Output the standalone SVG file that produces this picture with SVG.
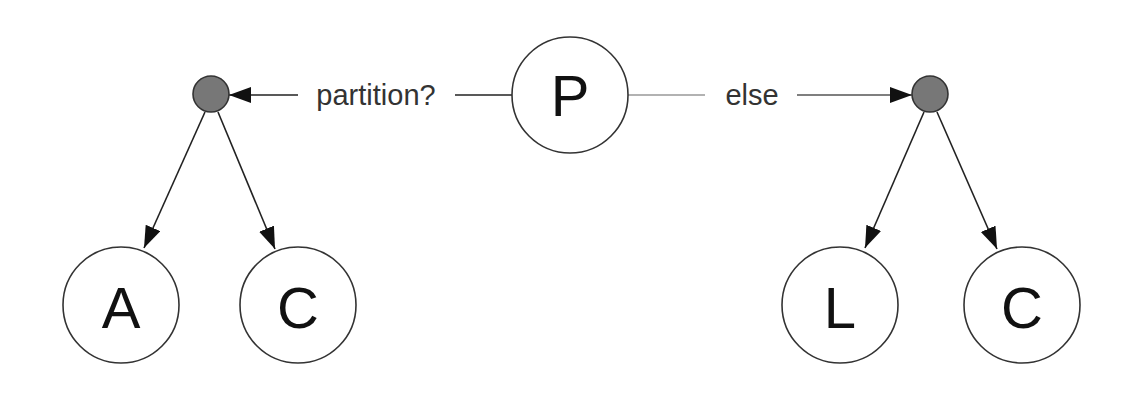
<svg xmlns="http://www.w3.org/2000/svg" width="1124" height="406" viewBox="0 0 1124 406">
<style>
.node{fill:#fff;stroke:#333;stroke-width:1.6}
.dot{fill:#777;stroke:#333;stroke-width:1.6}
.big{font-family:"Liberation Sans",Arial,sans-serif;font-size:58px;fill:#111;text-anchor:middle}
.lbl{font-family:"Liberation Sans",Arial,sans-serif;font-size:29px;fill:#333;text-anchor:middle}
.edge{stroke:#222;stroke-width:1.6;fill:none}
.light{stroke:#999;stroke-width:1.6;fill:none}
</style>
<defs>
<marker id="ah" markerUnits="userSpaceOnUse" markerWidth="24" markerHeight="18" refX="22" refY="8" orient="auto">
<path d="M0,0 L22,8 L0,16 z" fill="#111"/>
</marker>
</defs>
<rect width="1124" height="406" fill="#fff"/>
<g id="connectors">
<line class="edge" x1="512" y1="95" x2="455" y2="95"/>
<line class="edge" x1="298" y1="95" x2="229" y2="95" marker-end="url(#ah)"/>
<text class="lbl" x="376" y="105">partition?</text>
<line class="light" x1="628" y1="95" x2="705" y2="95"/>
<line class="edge" x1="797" y1="95" x2="912" y2="95" marker-end="url(#ah)" style="stroke:#555"/>
<text class="lbl" x="752" y="105">else</text>
<line class="edge" x1="205" y1="112" x2="144" y2="248" marker-end="url(#ah)"/>
<line class="edge" x1="218" y1="112" x2="275" y2="249" marker-end="url(#ah)"/>
<line class="edge" x1="924" y1="112" x2="865" y2="248" marker-end="url(#ah)"/>
<line class="edge" x1="937" y1="112" x2="997" y2="249" marker-end="url(#ah)"/>
</g>
<g id="P"><circle class="node" cx="570" cy="95" r="58"/><text class="big" x="570" y="116">P</text></g>
<g id="split-left"><circle class="dot" cx="211" cy="94" r="18"/></g>
<g id="split-right"><circle class="dot" cx="930" cy="94" r="18"/></g>
<g id="A"><circle class="node" cx="121" cy="305" r="58"/><text class="big" x="121" y="328">A</text></g>
<g id="C1"><circle class="node" cx="298" cy="305" r="58"/><text class="big" x="298" y="328">C</text></g>
<g id="L"><circle class="node" cx="840" cy="305" r="58"/><text class="big" x="840" y="328">L</text></g>
<g id="C2"><circle class="node" cx="1022" cy="305" r="58"/><text class="big" x="1022" y="328">C</text></g>
</svg>
